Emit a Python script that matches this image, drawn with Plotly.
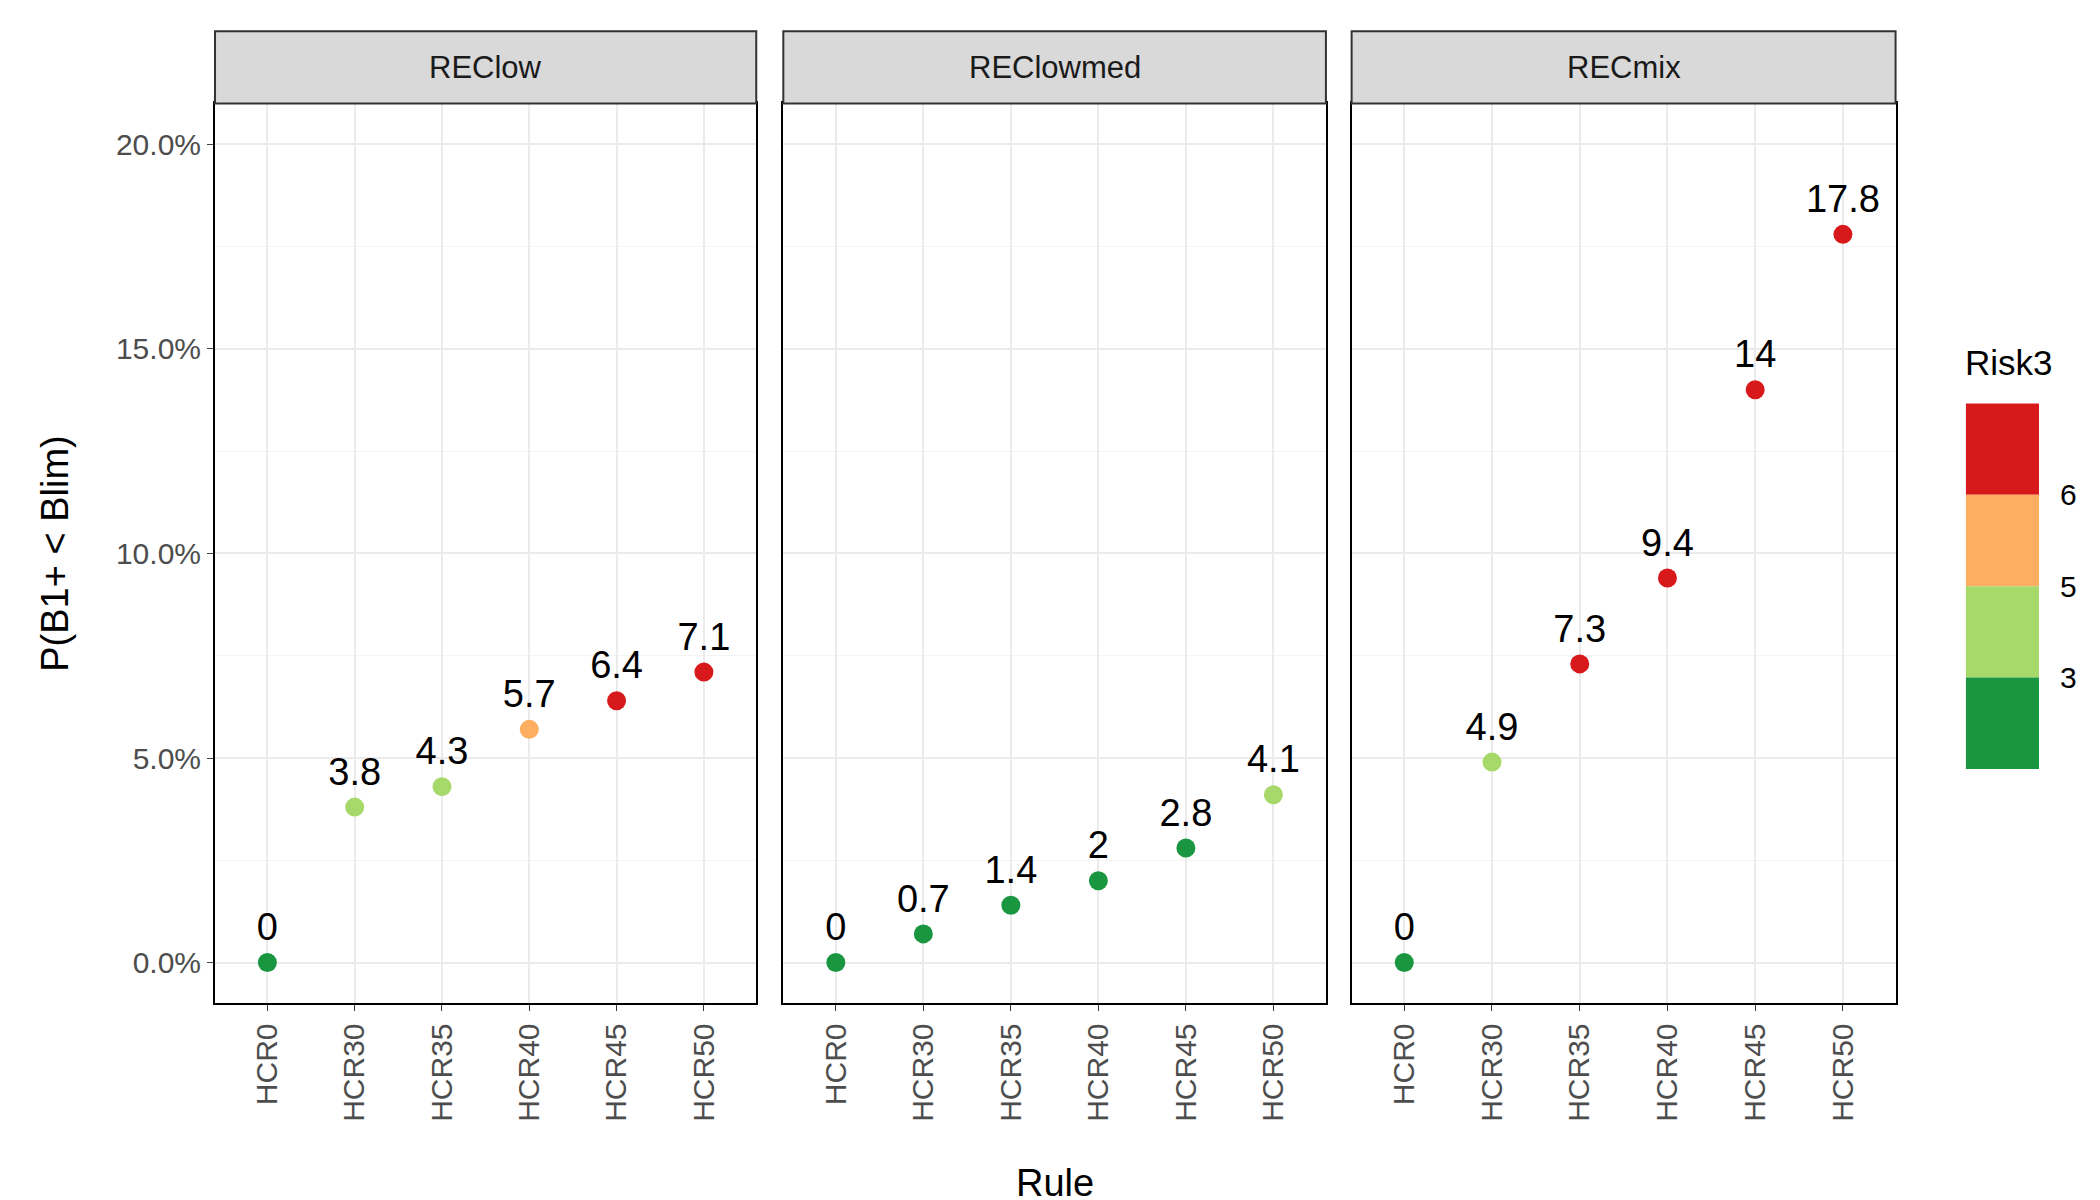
import plotly.graph_objects as go

rules = ["HCR0", "HCR30", "HCR35", "HCR40", "HCR45", "HCR50"]
panels = ["REClow", "REClowmed", "RECmix"]
values = {
    "REClow": [0, 3.8, 4.3, 5.7, 6.4, 7.1],
    "REClowmed": [0, 0.7, 1.4, 2, 2.8, 4.1],
    "RECmix": [0, 4.9, 7.3, 9.4, 14, 17.8],
}
risk = {
    "REClow": [1, 2, 2, 3, 4, 4],
    "REClowmed": [1, 1, 1, 1, 1, 2],
    "RECmix": [1, 2, 4, 4, 4, 4],
}
risk_colors = {1: "#1A9641", 2: "#A6D96A", 3: "#FDAE61", 4: "#D7191C"}
legend_labels = ["6", "5", "3"]

W, H = 2100, 1200
xd = [(153, 553), (573, 974), (993, 1395)]
ybot, ytop, stripTop = 1 - 730 / 880, 1 - 70 / 880, 1 - 17 / 880

fig = go.Figure()
for i, p in enumerate(panels):
    n = "" if i == 0 else str(i + 1)
    fig.add_trace(go.Scatter(
        x=rules, y=values[p], mode="markers+text",
        text=[f"{v:g}" for v in values[p]], textposition="top center",
        textfont=dict(size=38, color="black"),
        marker=dict(size=19, color=[risk_colors[r] for r in risk[p]]),
        xaxis="x" + n, yaxis="y" + n, showlegend=False, cliponaxis=False))
    d = [xd[i][0] / 1552, xd[i][1] / 1552]
    fig.layout["xaxis" + n] = dict(
        domain=d, anchor="y" + n, showline=True, mirror=True, linecolor="black",
        linewidth=2, ticks="outside", ticklen=6, tickcolor="#333", tickangle=-90,
        tickfont=dict(size=30, color="#4D4D4D"), gridcolor="#EBEBEB", gridwidth=2,
        range=[-0.6, 5.6], automargin=False)
    fig.layout["yaxis" + n] = dict(
        domain=[ybot, ytop], anchor="x" + n, range=[-1, 21], showline=True, mirror=True,
        linecolor="black", linewidth=2, gridcolor="#EBEBEB", gridwidth=2,
        tickvals=[0, 5, 10, 15, 20], ticks="outside" if i == 0 else "", ticklen=6,
        ticktext=["0.0%", "5.0%", "10.0%", "15.0%", "20.0%"] if i == 0 else [""] * 5,
        showticklabels=(i == 0), tickfont=dict(size=30, color="#4D4D4D"),
        minor=dict(tickvals=[2.5, 7.5, 12.5, 17.5], showgrid=True, gridcolor="#F4F4F4", gridwidth=1),
        zeroline=False, automargin=False)
    fig.add_shape(type="rect", xref="paper", yref="paper", x0=d[0], x1=d[1], y0=ytop,
                  y1=stripTop, fillcolor="#D9D9D9", line=dict(color="#333", width=2))
    fig.add_annotation(xref="paper", yref="paper", x=(d[0] + d[1]) / 2, y=(ytop + stripTop) / 2,
                       yanchor="middle", xanchor="center",
                       text=p, showarrow=False, font=dict(size=31, color="#1A1A1A"))

fig.add_annotation(xref="paper", yref="paper", x=35 / 1552, y=(ybot + ytop) / 2, textangle=-90,
                   text="P(B1+ < Blim)", showarrow=False, xanchor="center", yanchor="middle",
                   font=dict(size=38, color="black"))
fig.add_annotation(xref="paper", yref="paper", x=(153 + 1395) / 2 / 1552, y=1 - 862 / 880,
                   yanchor="middle", text="Rule", showarrow=False, font=dict(size=38, color="black"))

# legend blocks
lx0, lx1 = 1447 / 1552, 1501 / 1552
edges = [290, 357, 424, 491, 558]
for k, c in enumerate([4, 3, 2, 1]):
    fig.add_shape(type="rect", xref="paper", yref="paper", x0=lx0, x1=lx1,
                  y0=1 - edges[k + 1] / 880, y1=1 - edges[k] / 880,
                  fillcolor=risk_colors[c], line=dict(width=0))
for k, t in enumerate(legend_labels):
    fig.add_annotation(xref="paper", yref="paper", x=1515 / 1552, y=1 - edges[k + 1] / 880,
                       text=t, showarrow=False, xanchor="left", yanchor="middle",
                       font=dict(size=30, color="black"))
fig.add_annotation(xref="paper", yref="paper", x=1445 / 1552, y=1 - 260 / 880, text="Risk3",
                   showarrow=False, xanchor="left", yanchor="middle", font=dict(size=35, color="black"))

fig.update_layout(width=W, height=H, margin=dict(l=0, r=0, t=0, b=0, autoexpand=False),
                  plot_bgcolor="white", paper_bgcolor="white",
                  font=dict(family="Liberation Sans, Arial"))
fig.write_html("out.html")
